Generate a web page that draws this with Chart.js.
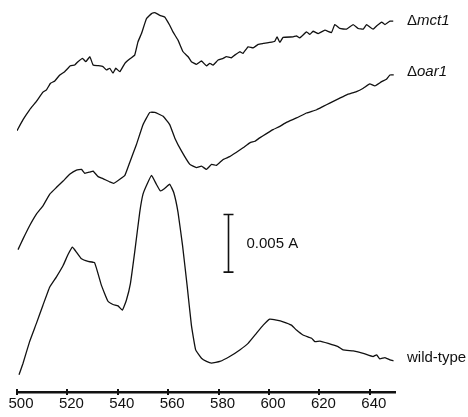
<!DOCTYPE html>
<html>
<head>
<meta charset="utf-8">
<style>
  html, body { margin: 0; padding: 0; background: #fff; }
</style>
</head>
<body>
<canvas id="spectra" width="468" height="417"></canvas>
<script src="https://cdn.jsdelivr.net/npm/chart.js@4/dist/chart.umd.min.js"></script>
<script>
// wavelength (nm) and absorbance (mA, traces offset as in the figure)
var nmMct1 = [500, 502.4, 505, 507.7, 510.3, 511.7, 513.3, 515, 517, 518.9, 521.2, 522.9, 524.2, 526, 527.3, 528.9, 530.2, 532.2, 534.1, 535.5, 536.8, 538.1, 539.2, 540.8, 542.8, 544.7, 546.7, 548, 549.4, 551.4, 553.4, 554.7, 556.7, 558.6, 560.6, 561.9, 563.9, 565.9, 567.9, 569.2, 571.2, 573.2, 575.2, 576.5, 577.8, 579.8, 581.8, 583.1, 585.1, 586.4, 588.4, 589.7, 591.7, 593.7, 595.7, 597.7, 600.3, 602.3, 603.2, 604.3, 605.6, 609.6, 610.9, 612.2, 614.9, 616.2, 617.5, 619.5, 622.2, 624.8, 626.1, 628.1, 630.8, 633.4, 635.4, 637.4, 638.7, 640, 641.3, 642.7, 644.7, 646, 648, 649.3];
var absMct1 = [22.67, 23.62, 24.48, 25.20, 26.01, 26.21, 26.78, 26.98, 27.50, 27.78, 28.30, 28.36, 28.65, 28.94, 28.65, 29.08, 28.36, 28.30, 28.22, 27.93, 28.08, 27.65, 28.08, 27.78, 28.51, 28.88, 29.22, 30.37, 31.09, 32.39, 32.82, 32.91, 32.67, 32.53, 31.81, 31.23, 30.52, 29.51, 29.08, 28.65, 28.42, 28.71, 28.28, 28.51, 28.36, 28.79, 28.94, 29.08, 28.99, 29.22, 29.51, 29.37, 29.94, 29.85, 30.15, 30.23, 30.32, 30.43, 30.80, 30.32, 30.75, 30.80, 30.89, 30.72, 31.23, 31.01, 31.29, 31.09, 31.38, 31.18, 31.87, 31.53, 31.47, 31.87, 31.53, 31.47, 31.87, 31.66, 31.47, 31.75, 32.09, 31.87, 32.16, 32.16];

var nmOar1 = [500.4, 502.4, 505, 507.7, 510.3, 513, 515.6, 518.3, 520.9, 523.6, 525.6, 526.9, 528.9, 530.2, 532.2, 534.1, 536.8, 538.4, 540.8, 542.8, 544.7, 547.4, 550, 552.7, 554.7, 558, 560.6, 562.6, 565.3, 568.6, 571.2, 573.2, 575.2, 577.2, 579.2, 581.8, 584.4, 587.1, 589.7, 592.4, 594.4, 596.3, 599, 601.6, 604.3, 606.9, 610.9, 614.9, 618.9, 621.5, 624.1, 628.1, 630.8, 634.7, 637.4, 640, 642, 644.7, 646.6, 648, 649.5];
var absOar1 = [12.35, 13.28, 14.42, 15.43, 16.15, 17.16, 17.73, 18.30, 18.88, 19.25, 19.31, 18.97, 19.08, 19.16, 18.68, 18.51, 18.22, 18.10, 18.45, 18.79, 19.89, 21.47, 23.19, 24.25, 24.25, 23.91, 23.19, 22.04, 20.89, 19.74, 19.46, 19.59, 19.31, 19.74, 19.66, 20.17, 20.41, 20.80, 21.18, 21.61, 21.75, 22.04, 22.41, 22.76, 23.04, 23.39, 23.77, 24.20, 24.48, 24.77, 25.06, 25.49, 25.78, 26.06, 26.35, 26.72, 26.55, 26.92, 27.13, 27.50, 27.50];

var nmWild = [500.8, 502.4, 505, 507.7, 510.3, 513, 515.6, 518.3, 520.2, 522, 523.6, 525.6, 528.2, 530.8, 533.5, 536.1, 538.1, 540.1, 541.8, 543.4, 545, 546.7, 548.7, 550, 551.6, 553.4, 555.3, 556.9, 558.6, 560.6, 562.2, 563.9, 565.7, 567.5, 569.2, 570.9, 573.2, 575.2, 577.2, 580.5, 584.4, 588.4, 591.7, 595, 597.7, 600.3, 603, 605.6, 608.9, 610.9, 613.5, 616.9, 618.2, 620.2, 623.5, 627.4, 629.4, 633.4, 637.4, 641.3, 642.7, 644, 646, 648, 649.4];
var absWild = [1.49, 2.50, 4.37, 5.95, 7.53, 9.11, 9.97, 10.97, 11.90, 12.56, 12.13, 11.55, 11.32, 11.21, 9.25, 7.87, 7.59, 7.47, 7.09, 7.96, 9.40, 12.13, 15.58, 17.16, 18.02, 18.79, 18.02, 17.44, 17.65, 18.02, 17.30, 15.58, 12.70, 9.25, 5.80, 3.65, 2.93, 2.65, 2.50, 2.65, 3.08, 3.65, 4.22, 5.09, 5.80, 6.32, 6.23, 6.09, 5.80, 5.37, 4.94, 4.66, 4.37, 4.42, 4.22, 3.94, 3.65, 3.56, 3.36, 3.08, 3.22, 2.87, 2.99, 2.78, 2.70];

var strains = ['mct1', 'oar1', 'wild-type'];
var xTicks = [500, 520, 540, 560, 580, 600, 620, 640];

// 0.005 A scale bar
var barWavelength = 583.8;
var barFrom = 10.4;
var barSize = 5;

function pts(xs, ys) {
  return xs.map(function (x, i) { return { x: x, y: ys[i] }; });
}

var ink = '#111';
var fontFam = '"Liberation Sans", Arial, sans-serif';

var annotations = {
  id: 'annotations',
  afterDraw: function (chart) {
    var c = chart.ctx, xs = chart.scales.x, ys = chart.scales.y, area = chart.chartArea;
    c.save();
    c.strokeStyle = ink;
    c.fillStyle = ink;

    // tick marks crossing the axis line
    c.lineWidth = 2;
    xTicks.forEach(function (v) {
      var px = Math.round(xs.getPixelForValue(v));
      c.beginPath();
      c.moveTo(px, area.bottom - 3);
      c.lineTo(px, area.bottom + 3);
      c.stroke();
    });

    // scale bar
    var bx = Math.round(xs.getPixelForValue(barWavelength)) + 0.5;
    var y1 = ys.getPixelForValue(barFrom), y2 = ys.getPixelForValue(barFrom + barSize);
    c.lineWidth = 1.6;
    c.beginPath();
    c.moveTo(bx, y1); c.lineTo(bx, y2);
    c.moveTo(bx - 5, y1); c.lineTo(bx + 5, y1);
    c.moveTo(bx - 5, y2); c.lineTo(bx + 5, y2);
    c.stroke();
    c.font = '15px ' + fontFam;
    c.textBaseline = 'middle';
    c.textAlign = 'left';
    c.fillText('0.005 A', bx + 18, (y1 + y2) / 2 + 1);

    // trace labels at the right end of each trace
    var lx = area.right + 12;
    var ends = [absMct1[absMct1.length - 1], absOar1[absOar1.length - 1], absWild[absWild.length - 1]];
    var dy = [0, -3, -3];
    strains.forEach(function (name, i) {
      var ly = ys.getPixelForValue(ends[i]) + dy[i];
      var x = lx;
      c.font = '15px ' + fontFam;
      if (name !== 'wild-type') {
        c.fillText('\u0394', x, ly);
        x += c.measureText('\u0394').width;
        c.font = 'italic 15px ' + fontFam;
      }
      c.fillText(name, x, ly);
    });
    c.restore();
  }
};

function lineSet(label, data) {
  return {
    label: label,
    data: data,
    borderColor: ink,
    borderWidth: 1.3,
    pointRadius: 0,
    tension: 0.1,
    fill: false
  };
}

new Chart(document.getElementById('spectra').getContext('2d'), {
  type: 'line',
  data: {
    datasets: [
      lineSet('\u0394mct1', pts(nmMct1, absMct1)),
      lineSet('\u0394oar1', pts(nmOar1, absOar1)),
      lineSet('wild-type', pts(nmWild, absWild))
    ]
  },
  options: {
    responsive: false,
    animation: false,
    devicePixelRatio: 1,
    layout: { padding: { left: 17, right: 73, top: 0, bottom: 1 } },
    plugins: { legend: { display: false }, tooltip: { enabled: false } },
    scales: {
      x: {
        type: 'linear',
        min: 500,
        max: 650,
        afterBuildTicks: function (scale) {
          scale.ticks = xTicks.map(function (v) { return { value: v }; });
        },
        border: { display: true, color: ink, width: 2.5 },
        grid: { display: true, drawOnChartArea: false, drawTicks: false },
        ticks: {
          color: ink,
          padding: 3,
          labelOffset: 4,
          maxRotation: 0,
          autoSkip: false,
          font: { family: fontFam, size: 15 }
        }
      },
      y: {
        display: false,
        min: 0,
        max: 34
      }
    }
  },
  plugins: [annotations]
});
</script>
</body>
</html>
